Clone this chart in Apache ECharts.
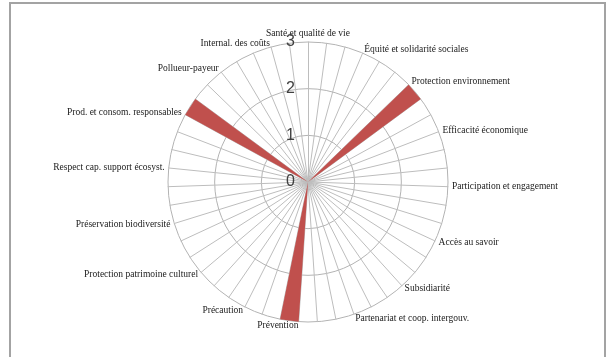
<!DOCTYPE html>
<html>
	<head>
		<meta charset="utf-8">
		<title>Radar</title>
		<style>
		html,body { height:100%; width:100%; margin:0; padding:0; background:#fff; }
		</style>
		<script src="https://cdn.jsdelivr.net/npm/echarts@6/dist/echarts.min.js"></script>
	</head>
	<body>
		<div id="radar" style="width:613px;height:357px;"></div>
		<script type="text/javascript">
			// 47 axes, clockwise from the top; blank names are unlabeled spokes
			var categories = [
				'Santé et qualité de vie', '', '',
				'Équité et solidarité sociales', '', '',
				'Protection environnement', '', '',
				'Efficacité économique', '', '',
				'Participation et engagement', '', '',
				'Accès au savoir', '', '',
				'Subsidiarité', '', '',
				'Partenariat et coop. intergouv.', '', '',
				'Prévention', '', '',
				'Précaution', '', '',
				'Protection patrimoine culturel', '', '',
				'Préservation biodiversité', '', '',
				'Respect cap. support écosyst.', '', '',
				'Prod. et consom. responsables', '', '',
				'Pollueur-payeur', '', '',
				'Internal. des coûts', ''
			];
			var values = [
				0, 0, 0, 0, 0, 0, 3, 3, 0, 0, 0, 0,
				0, 0, 0, 0, 0, 0, 0, 0, 0, 0, 0, 0,
				3, 3, 0, 0, 0, 0, 0, 0, 0, 0, 0, 0,
				0, 0, 0, 3, 3, 0, 0, 0, 0, 0, 0
			];
			var radiusTicks = [0, 1, 2, 3];

			var maxValue = radiusTicks[radiusTicks.length - 1];

			// echarts lays radar axes counterclockwise, so reverse (keeping the first at top)
			function clockwiseOrder(arr) {
				var out = [arr[0]];
				for (var i = arr.length - 1; i > 0; i--) out.push(arr[i]);
				return out;
			}

			var indicator = clockwiseOrder(categories).map(function (n) {
				return { name: n, min: 0, max: maxValue };
			});

			var myChart = echarts.init(document.getElementById('radar'));
			var option = {
				animation: false,
				graphic: [{
					type: 'rect',
					shape: { x: 10, y: 3, width: 595, height: 380 },
					style: { fill: 'none', stroke: '#a3a3a3', lineWidth: 2 },
					silent: true
				}],
				radar: {
					center: [308, 182],
					radius: 140,
					startAngle: 90,
					splitNumber: radiusTicks.length - 1,
					shape: 'circle',
					indicator: indicator,
					axisName: {
						color: '#1a1a1a',
						fontFamily: 'Liberation Serif',
						fontSize: 9.5
					},
					nameGap: 4,
					axisLine: { lineStyle: { color: '#bdbdbd', width: 1 } },
					splitLine: { lineStyle: { color: '#b3b3b3', width: 1 } },
					splitArea: { show: false },
					axisTick: { show: false },
					axisLabel: { show: false }
				},
				polar: {
					center: [308, 182],
					radius: 140
				},
				angleAxis: {
					show: false,
					min: 0,
					max: 360,
					startAngle: 90
				},
				radiusAxis: {
					min: 0,
					max: maxValue,
					interval: 1,
					axisLine: { show: false },
					axisTick: { show: false },
					splitLine: { show: false },
					axisLabel: {
						color: '#404040',
						fontFamily: 'Liberation Sans',
						fontSize: 16,
						margin: 13,
						formatter: function (v) { return radiusTicks.indexOf(v) >= 0 ? String(v) : ''; }
					}
				},
				series: [{
					type: 'radar',
					symbol: 'none',
					lineStyle: { width: 0 },
					areaStyle: { color: '#c0504d', opacity: 1 },
					data: [{ value: clockwiseOrder(values) }]
				}]
			};
			myChart.setOption(option);
		</script>
	</body>
</html>
